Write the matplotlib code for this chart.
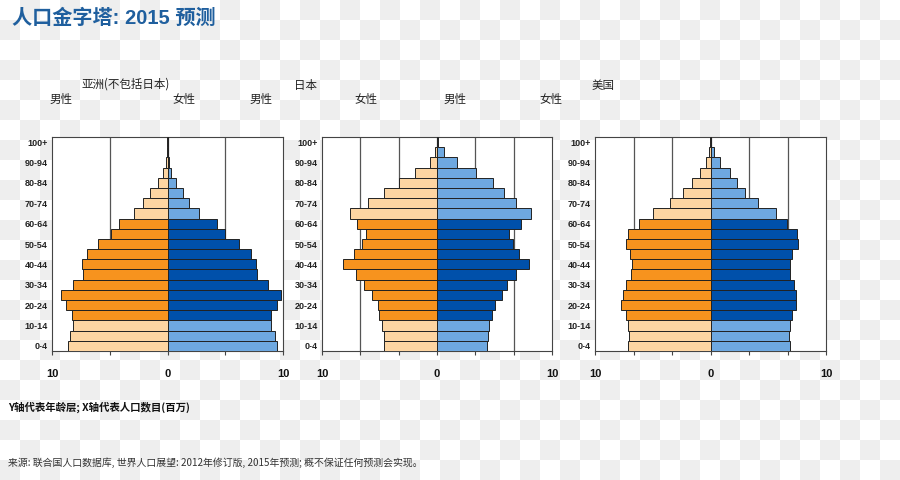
import numpy as np
import matplotlib
matplotlib.use("Agg")
import matplotlib.pyplot as plt

plt.rcParams['font.family'] = ['Liberation Sans', 'Noto Sans CJK SC', 'DejaVu Sans']

age_labels = ['0-4', '5-9', '10-14', '15-19', '20-24', '25-29', '30-34', '35-39',
              '40-44', '45-49', '50-54', '55-59', '60-64', '65-69', '70-74',
              '75-79', '80-84', '85-89', '90-94', '95-99', '100+']

asia_male = [173, 169, 163, 165, 176, 185, 164, 146, 148, 139, 120, 98, 84,
             58, 42, 31, 17, 8, 2, 0.5, 0.1]
asia_female = [190, 186, 180, 180, 190, 197, 174, 155, 154, 144, 123, 100, 86,
               55, 38, 26, 14, 6, 2, 0.5, 0.1]

japan_male = [2.74, 2.74, 2.86, 3.05, 3.10, 3.41, 3.80, 4.21, 4.89, 4.33, 3.92,
              3.69, 4.16, 4.54, 3.59, 2.74, 1.99, 1.13, 0.36, 0.09, 0.01]
japan_female = [2.63, 2.67, 2.72, 2.89, 3.00, 3.38, 3.66, 4.12, 4.78, 4.28, 3.97,
                3.78, 4.37, 4.92, 4.14, 3.48, 2.93, 2.06, 1.06, 0.36, 0.05]

us_male = [10.75, 10.58, 10.75, 10.97, 11.62, 11.40, 11.01, 10.36, 10.14, 10.49,
           11.01, 10.66, 9.23, 7.50, 5.24, 3.60, 2.43, 1.34, 0.56, 0.20, 0.05]
us_female = [10.32, 10.14, 10.27, 10.58, 11.10, 11.05, 10.84, 10.32, 10.32, 10.62,
             11.36, 11.23, 9.97, 8.45, 6.16, 4.42, 3.42, 2.51, 1.21, 0.43, 0.08]

x_tick_text = ['10', '0', '10']

panels = [
    dict(title='亚洲(不包括日本)', male=asia_male, female=asia_female, lim=200, step=100),
    dict(title='日本', male=japan_male, female=japan_female, lim=6, step=2),
    dict(title='美国', male=us_male, female=us_female, lim=15, step=5),
]

W, H = 900, 480
fig = plt.figure(figsize=(9, 4.8), dpi=100)

# checkerboard background
yy, xx = np.indices((H, W))
chk = ((xx // 20 + yy // 20) % 2).astype(float)
bg = np.ones((H, W, 3))
bg[chk == 1] = 0.937
fig.figimage(bg, xo=0, yo=0, origin='upper', zorder=-10)

c_dark_or = '#F7931E'
c_light_or = '#FDD5A2'
c_dark_bl = '#0050AA'
c_light_bl = '#6EA8E0'

lefts = [52, 322, 595]
widths = [231, 230, 231]
top_px, bot_px = 137, 351

def fx(px):
    return px / W

def fy(py):
    return 1 - py / H

n = len(age_labels)
y = np.arange(n)
is_working = [(3 <= i <= 12) for i in range(n)]

for p, lpx, wpx in zip(panels, lefts, widths):
    ax = fig.add_axes([fx(lpx), fy(bot_px), wpx / W, (bot_px - top_px) / H])
    ax.set_facecolor('white')
    lim = p['lim']
    mcol = [c_dark_or if w else c_light_or for w in is_working]
    fcol = [c_dark_bl if w else c_light_bl for w in is_working]
    ax.barh(y, [-v for v in p['male']], height=1.0, color=mcol,
            edgecolor='#222222', linewidth=0.7, zorder=3)
    ax.barh(y, p['female'], height=1.0, color=fcol,
            edgecolor='#222222', linewidth=0.7, zorder=3)
    ax.set_xlim(-lim, lim)
    ax.set_ylim(-0.5, n - 0.5)
    ticks = np.arange(-lim, lim + 0.001, p['step'])
    ax.set_xticks(ticks)
    labs = []
    for t in ticks:
        if abs(t + lim) < 1e-9:
            labs.append(x_tick_text[0])
        elif abs(t) < 1e-9:
            labs.append(x_tick_text[1])
        elif abs(t - lim) < 1e-9:
            labs.append(x_tick_text[2])
        else:
            labs.append('')
    ax.set_xticklabels(labs, fontsize=8, fontweight='bold', color='#111111')
    for t in ticks[1:-1]:
        ax.axvline(t, color='#555555', linewidth=0.9, zorder=1)
    ax.set_yticks(y[::2])
    ax.set_yticklabels(age_labels[::2], fontsize=6.5, fontweight='bold', color='#222222')
    ax.tick_params(axis='y', length=0, pad=3)
    ax.tick_params(axis='x', length=3, pad=10, color='#444444', width=0.8)
    for s in ax.spines.values():
        s.set_color('#444444')
        s.set_linewidth(0.8)

# titles
fig.text(fx(12), fy(18), '人口金字塔: 2015 预测', fontsize=14.5, fontweight='bold',
         color='#1F5F9E', ha='left', va='center',
         family=['Liberation Sans', 'Noto Sans CJK SC'])

lab_kw = dict(fontsize=8.3, color='#222222', va='baseline', ha='center',
              family=['Noto Sans CJK SC', 'DejaVu Sans'])
fig.text(fx(126), fy(88), panels[0]['title'], **lab_kw)
fig.text(fx(305), fy(89), panels[1]['title'], **lab_kw)
fig.text(fx(603.5), fy(89), panels[2]['title'], **lab_kw)

sex_labels = [('男性', 61.5), ('女性', 184), ('男性', 261.5), ('女性', 366),
              ('男性', 454.5), ('女性', 551)]
for t, xp in sex_labels:
    fig.text(fx(xp), fy(103), t, **lab_kw)

fig.text(fx(8), fy(407), 'Y轴代表年龄层; X轴代表人口数目(百万)', fontsize=7.5,
         fontweight='bold', color='#111111', ha='left', va='center',
         family=['Noto Sans CJK SC', 'DejaVu Sans'])
fig.text(fx(8), fy(463), '来源: 联合国人口数据库, 世界人口展望: 2012年修订版, 2015年预测; 概不保证任何预测会实现。',
         fontsize=7.1, color='#333333', ha='left', va='center',
         family=['Noto Sans CJK SC', 'DejaVu Sans'])

fig.savefig('out.png', dpi=100)
